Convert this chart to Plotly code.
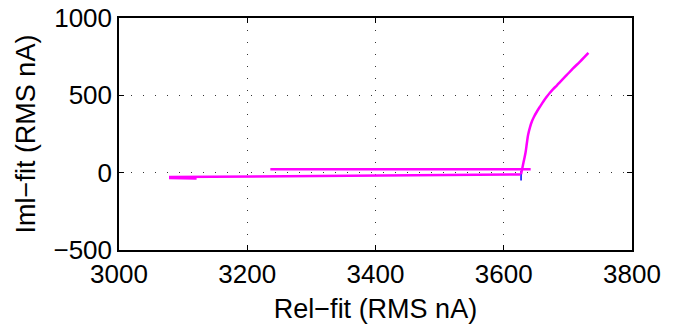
import plotly.graph_objects as go

# ---- data ----
upper_x = [3236, 3440, 3642]
upper_y = [22, 22, 22]

lower_x = [3078, 3300, 3500, 3626]
lower_y = [-28, -22, -16, -12]

stub_x = [3078, 3100, 3121]
stub_y = [-34, -36, -37]

curve_x = [3627, 3629, 3631, 3634, 3636, 3638, 3641, 3644, 3647, 3652, 3657,
           3662, 3667, 3672, 3677, 3683, 3688, 3698, 3708, 3719, 3732]
curve_y = [-10, 30, 70, 130, 190, 245, 295, 332, 360, 397, 430,
           462, 491, 517, 540, 565, 587, 630, 674, 718, 774]

blue_x = [3627, 3627]
blue_y = [10, -50]

x_ticks = [3000, 3200, 3400, 3600, 3800]
x_ticktext = ["3000", "3200", "3400", "3600", "3800"]
y_ticks = [-500, 0, 500, 1000]
y_ticktext = ["\u2212500", "0", "500", "1000"]

x_title = "Rel\u2212fit (RMS nA)"
y_title = "Iml\u2212fit (RMS nA)"

# ---- build path with gaps ----
mx = upper_x + [None] + lower_x + [None] + stub_x
my = upper_y + [None] + lower_y + [None] + stub_y

fig = go.Figure()
fig.add_trace(go.Scatter(x=blue_x, y=blue_y, mode="lines",
                         line=dict(color="#0000ff", width=1.5),
                         hoverinfo="skip", showlegend=False))
fig.add_trace(go.Scatter(x=mx, y=my, mode="lines", connectgaps=False,
                         line=dict(color="#ff00ff", width=2.5),
                         showlegend=False))
fig.add_trace(go.Scatter(x=curve_x, y=curve_y, mode="lines",
                         line=dict(color="#ff00ff", width=2.5, shape="spline", smoothing=1.0),
                         showlegend=False))

font = "Liberation Sans, Arial, Helvetica, sans-serif"
axis_common = dict(
    showline=True, linecolor="black", linewidth=1.5, mirror="ticks",
    ticks="inside", ticklen=5, tickcolor="black", tickwidth=1,
    showgrid=True, gridcolor="#333333", gridwidth=1, griddash="1px,11px",
    zeroline=False, automargin=False, ticklabeloverflow="allow",
    tickfont=dict(family=font, size=26, color="black"),
)

fig.update_layout(
    width=680, height=324,
    margin=dict(l=119, r=48, t=18, b=74, autoexpand=False),
    paper_bgcolor="white", plot_bgcolor="white",
    xaxis=dict(range=[3000, 3800], tickvals=x_ticks, ticktext=x_ticktext,
               title=dict(text=x_title, font=dict(family=font, size=27, color="black"),
                          standoff=12),
               **axis_common),
    yaxis=dict(range=[-500, 1000], tickvals=y_ticks, ticktext=y_ticktext,
               title=dict(text=y_title, font=dict(family=font, size=27, color="black"),
                          standoff=10),
               **axis_common),
)

# remove the browser's default 8px body margin so the figure fills the window
fig.write_html("out.html",
               config={"displayModeBar": False},
               post_script="document.body.style.margin='0px';")
